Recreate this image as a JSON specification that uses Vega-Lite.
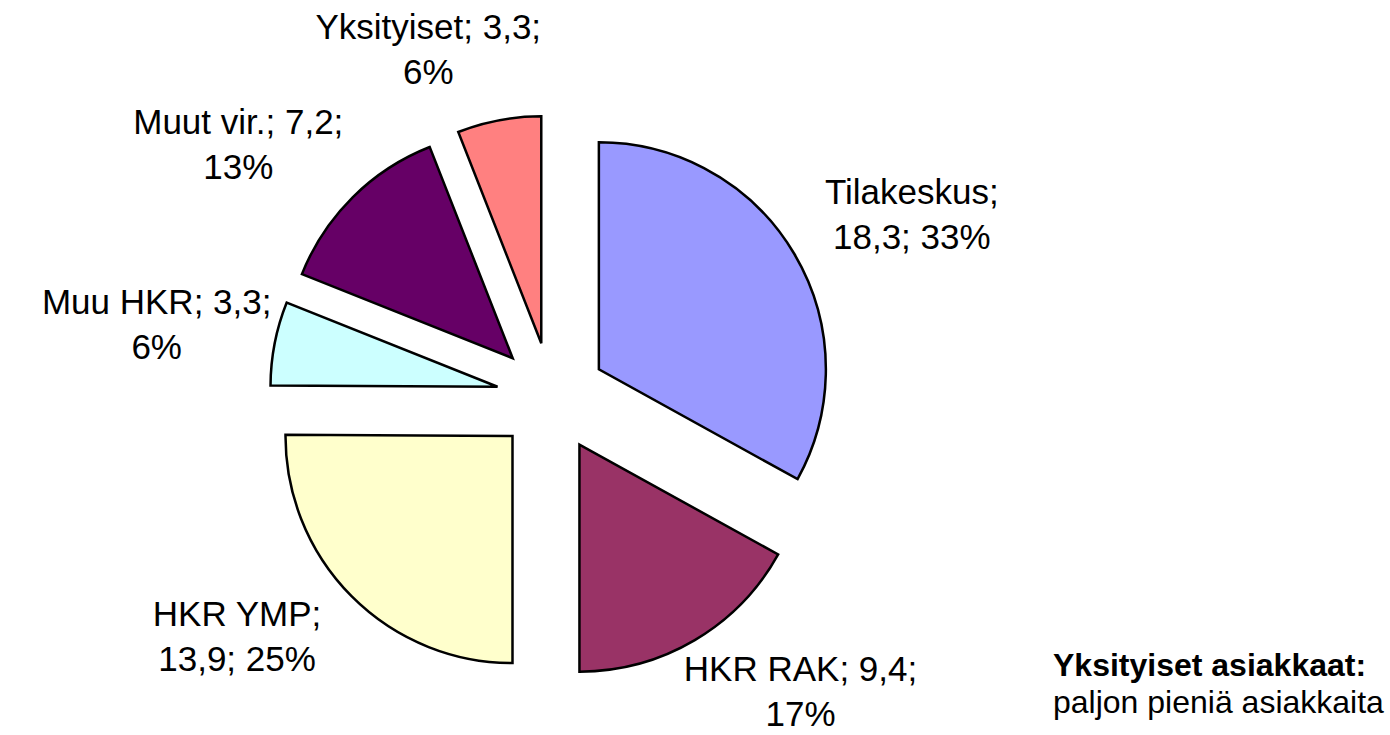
{
  "$schema": "https://vega.github.io/schema/vega-lite/v6.json",
  "width": 1390,
  "height": 735,
  "autosize": {"type": "none"},
  "padding": 0,
  "background": "white",
  "config": {"view": {"stroke": null}},
  "title": {
    "text": "Yksityiset asiakkaat:",
    "subtitle": "paljon pieniä asiakkaita",
    "orient": "bottom",
    "anchor": "end",
    "align": "left",
    "frame": "group",
    "dx": -337,
    "offset": -84,
    "baseline": "top",
    "font": "Liberation Sans",
    "fontSize": 32,
    "fontWeight": "bold",
    "color": "black",
    "subtitleFont": "Liberation Sans",
    "subtitleFontSize": 32,
    "subtitleFontWeight": "normal",
    "subtitleColor": "black",
    "subtitlePadding": 5
  },
  "data": {
    "values": [
      {"name": "Tilakeskus", "value": 18.3, "label": "Tilakeskus;\n18,3; 33%"},
      {"name": "HKR RAK", "value": 9.4, "label": "HKR RAK; 9,4;\n17%"},
      {"name": "HKR YMP", "value": 13.9, "label": "HKR YMP;\n13,9; 25%"},
      {"name": "Muu HKR", "value": 3.3, "label": "Muu HKR; 3,3;\n6%"},
      {"name": "Muut vir.", "value": 7.2, "label": "Muut vir.; 7,2;\n13%"},
      {"name": "Yksityiset", "value": 3.3, "label": "Yksityiset; 3,3;\n6%"}
    ]
  },
  "transform": [
    {"window": [{"op": "row_number", "as": "idx"}, {"op": "sum", "field": "value", "as": "cum"}]},
    {"joinaggregate": [{"op": "sum", "field": "value", "as": "total"}]},
    {"calculate": "2*PI*(datum.cum - datum.value/2)/datum.total", "as": "mid"},
    {"calculate": "sin(datum.mid)", "as": "sx"},
    {"calculate": "cos(datum.mid)", "as": "cy"},
    {"calculate": "(datum.sx < 0 ? -1 : 1) * pow(abs(datum.sx), 0.7)", "as": "lx"}
  ],
  "layer": [
    {
      "mark": {"type": "arc", "outerRadius": 227, "stroke": "black", "strokeWidth": 2.5, "strokeJoin": "miter"},
      "encoding": {
        "theta": {"field": "value", "type": "quantitative", "stack": true},
        "order": {"field": "idx", "type": "quantitative"},
        "color": {
          "field": "name",
          "type": "nominal",
          "scale": {
            "domain": ["Tilakeskus", "HKR RAK", "HKR YMP", "Muu HKR", "Muut vir.", "Yksityiset"],
            "range": ["#9999FF", "#993366", "#FFFFCC", "#CCFFFF", "#660066", "#FF8080"]
          },
          "legend": null
        },
        "x": {"field": "sx", "type": "quantitative", "scale": {"domain": [-1, 1], "range": [496.5, 606.5], "nice": false, "zero": false}, "axis": null},
        "y": {"field": "cy", "type": "quantitative", "scale": {"domain": [-1, 1], "range": [452.3, 342.3], "nice": false, "zero": false}, "axis": null}
      }
    },
    {
      "mark": {"type": "text", "align": "center", "baseline": "middle", "font": "Liberation Sans", "fontSize": 35, "lineHeight": 45, "lineBreak": "\n", "color": "black"},
      "encoding": {
        "text": {"field": "label", "type": "nominal"},
        "x": {"field": "lx", "type": "quantitative", "scale": {"domain": [-1, 1], "range": [151.5, 951.5], "nice": false, "zero": false}, "axis": null},
        "y": {"field": "cy", "type": "quantitative", "scale": {"domain": [-1, 1], "range": [718, 22], "nice": false, "zero": false}, "axis": null}
      }
    }
  ],
  "resolve": {"scale": {"x": "independent", "y": "independent"}}
}
